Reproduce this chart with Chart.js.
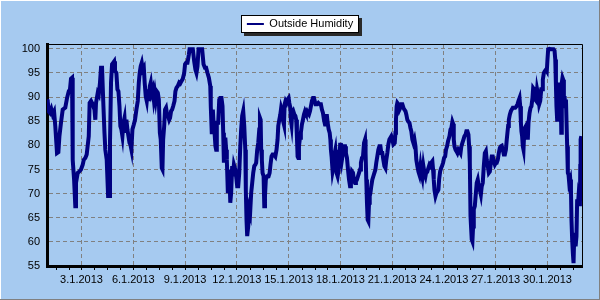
<!DOCTYPE html>
<html>
<head>
<meta charset="utf-8">
<script src="https://cdn.jsdelivr.net/npm/chart.js@4.4.1/dist/chart.umd.min.js"></script>
<style>
html,body{margin:0;padding:0;background:#A6CAF0;}
#wrap{width:600px;height:300px;}
</style>
</head>
<body>
<div id="wrap"><canvas id="c" width="600" height="300"></canvas></div>
<script>
const seriesName = 'Outside Humidity';
const monthSuffix = '.1.2013';
// day of month (fractional) and relative humidity (%)
const days = [
1.00,1.04,1.10,1.17,1.25,1.33,1.41,1.48,1.58,1.66,1.72,1.81,1.91,2.06,2.16,2.26,2.33,2.39,2.45,2.49,
2.57,2.64,2.68,2.78,2.88,2.97,3.07,3.13,3.22,3.30,3.42,3.47,3.55,3.65,3.75,3.80,3.84,3.94,4.00,4.07,
4.13,4.19,4.27,4.33,4.38,4.46,4.54,4.60,4.65,4.71,4.77,4.83,4.89,4.94,5.02,5.08,5.14,5.20,5.25,5.31,
5.37,5.43,5.49,5.54,5.60,5.66,5.72,5.78,5.83,5.89,5.95,6.03,6.10,6.18,6.26,6.32,6.37,6.43,6.49,6.55,
6.61,6.66,6.72,6.78,6.84,6.90,6.96,7.01,7.07,7.13,7.19,7.25,7.30,7.36,7.42,7.48,7.54,7.59,7.65,7.69,
7.73,7.79,7.84,7.90,7.96,8.02,8.08,8.13,8.19,8.25,8.31,8.39,8.44,8.50,8.58,8.66,8.72,8.79,8.87,8.95,
9.00,9.06,9.14,9.22,9.26,9.35,9.45,9.53,9.60,9.66,9.72,9.78,9.88,9.99,10.07,10.15,10.22,10.30,10.38,10.46,
10.49,10.55,10.61,10.65,10.71,10.76,10.80,10.84,10.92,10.98,11.03,11.11,11.17,11.21,11.25,11.29,11.34,11.38,11.42,11.48,
11.52,11.58,11.62,11.67,11.73,11.77,11.83,11.91,11.96,12.02,12.08,12.14,12.20,12.25,12.31,12.37,12.43,12.49,12.52,12.56,
12.60,12.66,12.72,12.77,12.83,12.89,12.95,13.01,13.07,13.12,13.18,13.24,13.30,13.34,13.38,13.41,13.45,13.49,13.55,13.59,
13.63,13.68,13.76,13.84,13.90,13.95,14.01,14.07,14.15,14.23,14.30,14.36,14.40,14.46,14.52,14.57,14.63,14.69,14.73,14.77,
14.82,14.88,14.94,15.00,15.04,15.10,15.13,15.17,15.21,15.27,15.33,15.39,15.44,15.48,15.52,15.56,15.60,15.66,15.71,15.77,
15.83,15.89,15.95,16.00,16.06,16.12,16.18,16.24,16.29,16.35,16.41,16.47,16.56,16.64,16.72,16.80,16.87,16.93,16.99,17.05,
17.11,17.16,17.22,17.26,17.32,17.38,17.42,17.45,17.49,17.55,17.61,17.67,17.71,17.74,17.78,17.84,17.90,17.96,17.99,18.03,
18.09,18.15,18.21,18.27,18.32,18.38,18.44,18.50,18.56,18.61,18.67,18.73,18.79,18.85,18.90,18.96,19.02,19.08,19.14,19.19,
19.25,19.31,19.37,19.43,19.46,19.50,19.54,19.58,19.62,19.66,19.70,19.74,19.79,19.85,19.91,19.97,20.03,20.08,20.14,20.20,
20.26,20.32,20.37,20.43,20.49,20.55,20.61,20.66,20.72,20.78,20.84,20.90,20.95,21.01,21.07,21.15,21.19,21.22,21.26,21.30,
21.36,21.42,21.47,21.53,21.59,21.65,21.71,21.77,21.82,21.88,21.94,22.00,22.06,22.11,22.17,22.23,22.29,22.35,22.40,22.46,
22.52,22.58,22.64,22.69,22.75,22.81,22.87,22.93,22.98,23.04,23.10,23.16,23.22,23.27,23.33,23.37,23.41,23.45,23.51,23.56,
23.62,23.68,23.72,23.78,23.84,23.89,23.95,24.01,24.07,24.12,24.18,24.24,24.32,24.38,24.43,24.49,24.53,24.57,24.61,24.67,
24.72,24.78,24.84,24.90,24.96,25.01,25.07,25.13,25.19,25.25,25.30,25.36,25.42,25.46,25.50,25.54,25.57,25.61,25.65,25.69,
25.73,25.79,25.85,25.90,25.96,26.02,26.08,26.14,26.19,26.25,26.31,26.37,26.43,26.48,26.54,26.60,26.66,26.72,26.77,26.83,
26.89,26.95,27.01,27.06,27.12,27.18,27.24,27.30,27.35,27.41,27.47,27.53,27.59,27.64,27.68,27.72,27.76,27.82,27.88,27.93,
27.99,28.05,28.13,28.20,28.26,28.32,28.38,28.42,28.46,28.49,28.53,28.57,28.61,28.65,28.69,28.75,28.80,28.86,28.90,28.96,
29.02,29.07,29.13,29.17,29.23,29.29,29.35,29.40,29.46,29.52,29.58,29.64,29.69,29.73,29.79,29.85,29.91,29.96,30.00,30.04,
30.12,30.20,30.27,30.35,30.41,30.45,30.49,30.52,30.56,30.60,30.64,30.68,30.72,30.76,30.80,30.83,30.87,30.91,30.95,30.99,
31.03,31.07,31.10,31.14,31.18,31.22,31.26,31.32,31.36,31.39,31.43,31.47,31.51,31.55,31.59,31.63,31.68,31.72,31.76,31.80,
31.84,31.88,31.90,31.92,31.96
];
const humidity = [
89.5,89.2,87.0,86.7,87.5,86.4,87.0,84.0,78.4,78.6,81.9,84.7,87.4,87.8,89.8,91.2,91.6,93.8,94.0,77.0,
72.9,67.4,72.2,74.3,74.6,75.0,76.0,77.0,77.4,78.1,81.9,88.8,89.2,88.5,87.4,85.3,88.8,90.9,90.5,93.0,
96.1,96.1,88.1,82.6,79.1,77.0,69.5,69.5,80.5,93.0,96.8,97.1,97.4,95.4,95.0,91.6,91.2,88.1,84.0,83.3,
81.9,84.7,85.7,82.6,85.3,83.3,81.9,80.5,80.2,79.1,83.3,84.3,85.3,87.4,89.2,93.0,95.0,96.4,97.1,95.7,
96.1,93.0,90.2,89.2,91.6,89.2,92.3,93.0,90.9,91.6,89.5,90.9,89.5,91.2,90.9,89.5,82.6,81.2,75.3,75.0,
81.2,84.0,87.4,87.8,86.4,86.1,85.3,85.7,87.1,87.4,88.1,89.2,91.2,91.9,92.3,93.0,92.8,93.3,93.8,95.0,
96.8,97.1,97.1,98.8,99.9,99.9,99.9,97.4,95.7,95.0,96.4,99.9,99.9,99.9,96.8,96.1,96.1,95.0,94.0,92.3,
88.1,82.3,87.4,84.7,82.6,79.8,79.1,84.7,84.7,89.5,89.8,89.8,88.1,82.6,76.4,81.2,81.2,79.1,77.0,70.1,
75.0,72.9,68.1,70.1,75.7,73.6,76.0,75.0,73.6,71.5,71.5,74.3,79.8,83.3,86.1,87.1,84.0,79.1,70.8,64.6,
61.2,63.2,66.7,66.0,70.1,72.2,74.3,75.7,76.0,76.4,79.1,80.5,83.3,85.7,85.3,79.1,77.0,74.3,73.6,67.4,
69.5,72.9,73.6,73.6,74.3,76.0,77.7,78.1,78.1,77.7,79.1,81.2,84.0,85.3,86.4,87.8,87.1,84.9,84.3,88.5,
89.2,88.8,89.5,89.8,88.8,87.8,85.3,84.3,86.7,87.1,86.4,86.1,85.3,81.9,77.7,77.4,79.8,81.6,82.6,84.3,
85.3,86.4,87.1,86.7,87.1,86.7,86.4,87.1,87.1,89.2,89.8,89.8,88.5,88.5,88.8,88.5,88.5,87.4,86.7,85.3,
84.3,86.1,86.1,84.7,83.3,82.6,81.2,79.1,77.7,74.6,75.7,78.4,79.1,77.7,74.3,73.6,75.0,77.7,80.5,79.1,
77.0,78.4,79.8,79.8,78.4,77.4,75.0,72.9,71.5,72.9,74.6,74.3,72.6,72.2,72.9,72.9,73.6,74.3,75.0,76.4,
77.4,77.7,80.5,81.2,78.4,72.9,68.1,64.6,64.3,68.1,69.5,70.1,71.5,72.9,73.6,74.3,75.0,76.4,77.7,79.1,
79.8,79.8,78.4,78.4,77.0,75.7,75.3,77.0,78.4,80.2,81.2,81.6,81.9,81.2,80.2,80.5,82.6,85.3,88.1,88.8,
88.5,87.4,87.8,88.5,88.5,87.8,87.4,87.1,86.4,85.3,84.9,84.7,83.6,82.9,81.2,80.5,81.2,79.8,77.0,75.7,
74.6,73.9,75.7,74.3,73.3,75.7,74.3,73.6,74.6,74.6,75.3,76.0,75.7,76.4,76.7,75.0,72.9,70.8,69.5,70.1,
70.4,70.8,72.9,74.6,75.3,75.7,76.4,77.4,77.7,79.1,79.8,80.9,81.9,83.3,83.6,84.9,84.5,81.2,79.8,79.1,
78.8,78.4,79.1,78.8,78.4,79.8,80.5,81.2,81.9,82.2,82.9,82.9,82.2,79.8,76.4,65.3,63.2,60.5,60.1,63.2,
66.7,67.4,70.1,72.2,72.9,71.5,70.8,69.8,71.5,72.2,75.7,78.4,78.8,77.0,75.7,74.3,74.6,76.4,77.7,77.7,
76.7,76.0,76.4,76.4,77.0,78.4,79.5,79.8,79.9,79.1,78.1,78.1,79.1,81.2,82.6,84.0,85.3,86.4,87.1,87.4,
87.8,87.8,87.8,88.1,88.5,89.2,89.8,88.1,84.7,82.9,81.9,79.8,79.1,82.6,83.6,84.0,83.0,81.2,84.7,86.7,
87.8,88.1,89.8,91.9,91.6,89.5,89.2,91.6,90.5,88.5,89.2,91.6,91.6,93.6,95.0,95.4,95.7,95.4,97.8,99.9,
100.0,99.9,99.9,99.9,99.6,97.8,92.3,88.1,85.3,88.1,91.6,88.8,93.0,90.9,82.6,93.0,94.0,93.6,88.1,90.2,
88.1,89.5,85.3,79.8,74.3,73.9,72.2,72.9,70.8,64.6,60.5,57.7,55.6,61.2,61.9,59.1,61.2,68.8,67.4,69.5,
68.8,67.4,75.7,81.2,81.9
];
const xTickDays = [3,6,9,12,15,18,21,24,27,30];
const yTickValues = [55,60,65,70,75,80,85,90,95,100];

const FONT = {family: "'Liberation Sans', Arial, sans-serif", size: 11};
const BG = '#A6CAF0';

const decor = {
  id: 'decor',
  afterLayout(chart) {
    const lg = chart.legend;
    lg.left = 0; lg.right = chart.width; lg.width = chart.width;
    lg.top -= 4.5; lg.bottom -= 4.5;
  },
  beforeDraw(chart) {
    const c = chart.ctx, W = chart.width, H = chart.height;
    c.save();
    c.fillStyle = BG; c.fillRect(0, 0, W, H);
    c.fillStyle = '#ffffff'; c.fillRect(0, 0, W, 1); c.fillRect(0, 0, 1, H);
    c.fillStyle = '#808080'; c.fillRect(0, H - 1, W, 1); c.fillRect(W - 1, 0, 1, H);
    const lg = chart.legend;
    const p = lg.options.labels.padding;
    const itemW = lg.legendHitBoxes[0].width;
    const left = (lg.left + p + lg.right - lg.lineWidths[0]) / 2;
    const mid = lg.top + p + FONT.size / 2;
    const x = Math.round(left - 6), y = Math.round(mid - 9), w = Math.round(itemW + 12), h = 18;
    c.fillStyle = '#2a2a2a'; c.fillRect(x + 3, y + 3, w, h);
    c.fillStyle = '#ffffff'; c.fillRect(x, y, w, h);
    c.strokeStyle = '#000000'; c.lineWidth = 1; c.strokeRect(x + 0.5, y + 0.5, w - 1, h - 1);
    c.restore();
  },
  beforeDatasetsDraw(chart) {
    const a = chart.chartArea, c = chart.ctx;
    c.save(); c.strokeStyle = '#000'; c.lineWidth = 1;
    c.beginPath();
    c.moveTo(a.left, Math.floor(a.top) + 0.5);
    c.lineTo(Math.floor(a.right) + 0.5, Math.floor(a.top) + 0.5);
    c.lineTo(Math.floor(a.right) + 0.5, a.bottom);
    c.stroke(); c.restore();
  },
  afterDraw(chart) {
    const xs = chart.scales.x, c = chart.ctx, b = chart.chartArea.bottom;
    c.save(); c.strokeStyle = '#000'; c.lineWidth = 1; c.beginPath();
    for (let t = 1.5; t <= xs.max; t += 0.75) {
      if (xTickDays.includes(t)) continue;
      const px = Math.round(xs.getPixelForValue(t)) + 0.5;
      c.moveTo(px, b + 1); c.lineTo(px, b + 4);
    }
    c.stroke(); c.restore();
  }
};

new Chart(document.getElementById('c'), {
  type: 'line',
  data: {
    datasets: [{
      label: seriesName,
      data: days.map((d, i) => ({x: d, y: humidity[i]})),
      borderColor: '#000080',
      backgroundColor: '#000080',
      borderWidth: 4,
      pointRadius: 0,
      tension: 0,
      fill: false,
      borderJoinStyle: 'miter'
    }]
  },
  options: {
    responsive: false,
    animation: false,
    devicePixelRatio: 1,
    layout: {padding: {top: 13, left: 0, right: 18, bottom: 0}},
    plugins: {
      legend: {
        display: true,
        position: 'top',
        labels: {
          boxWidth: 17, boxHeight: 2, padding: 10, color: '#000', font: FONT,
          generateLabels() {
            return [{text: seriesName, fillStyle: '#000080', strokeStyle: 'rgba(0,0,0,0)', lineWidth: 0, hidden: false, datasetIndex: 0}];
          }
        }
      },
      tooltip: {enabled: false}
    },
    scales: {
      x: {
        type: 'linear', min: 1, max: 32,
        afterBuildTicks(s) { s.ticks = xTickDays.map(v => ({value: v})); },
        afterFit(s) { s.height = 34; },
        ticks: {callback: v => v + monthSuffix, color: '#000', font: FONT, maxRotation: 0, autoSkip: false, padding: 3},
        grid: {color: '#808080', lineWidth: 1, drawTicks: true, tickLength: 4, tickColor: '#000'},
        border: {color: '#000', width: 3, dash: [4, 3]}
      },
      y: {
        min: 55, max: 101,
        afterBuildTicks(s) { s.ticks = yTickValues.map(v => ({value: v})); },
        afterFit(s) { s.width = 47; },
        ticks: {color: '#000', font: FONT, padding: 7},
        grid: {color: '#808080', lineWidth: 1, drawTicks: false},
        border: {color: '#000', width: 3, dash: [4, 3]}
      }
    }
  },
  plugins: [decor]
});
</script>
</body>
</html>
